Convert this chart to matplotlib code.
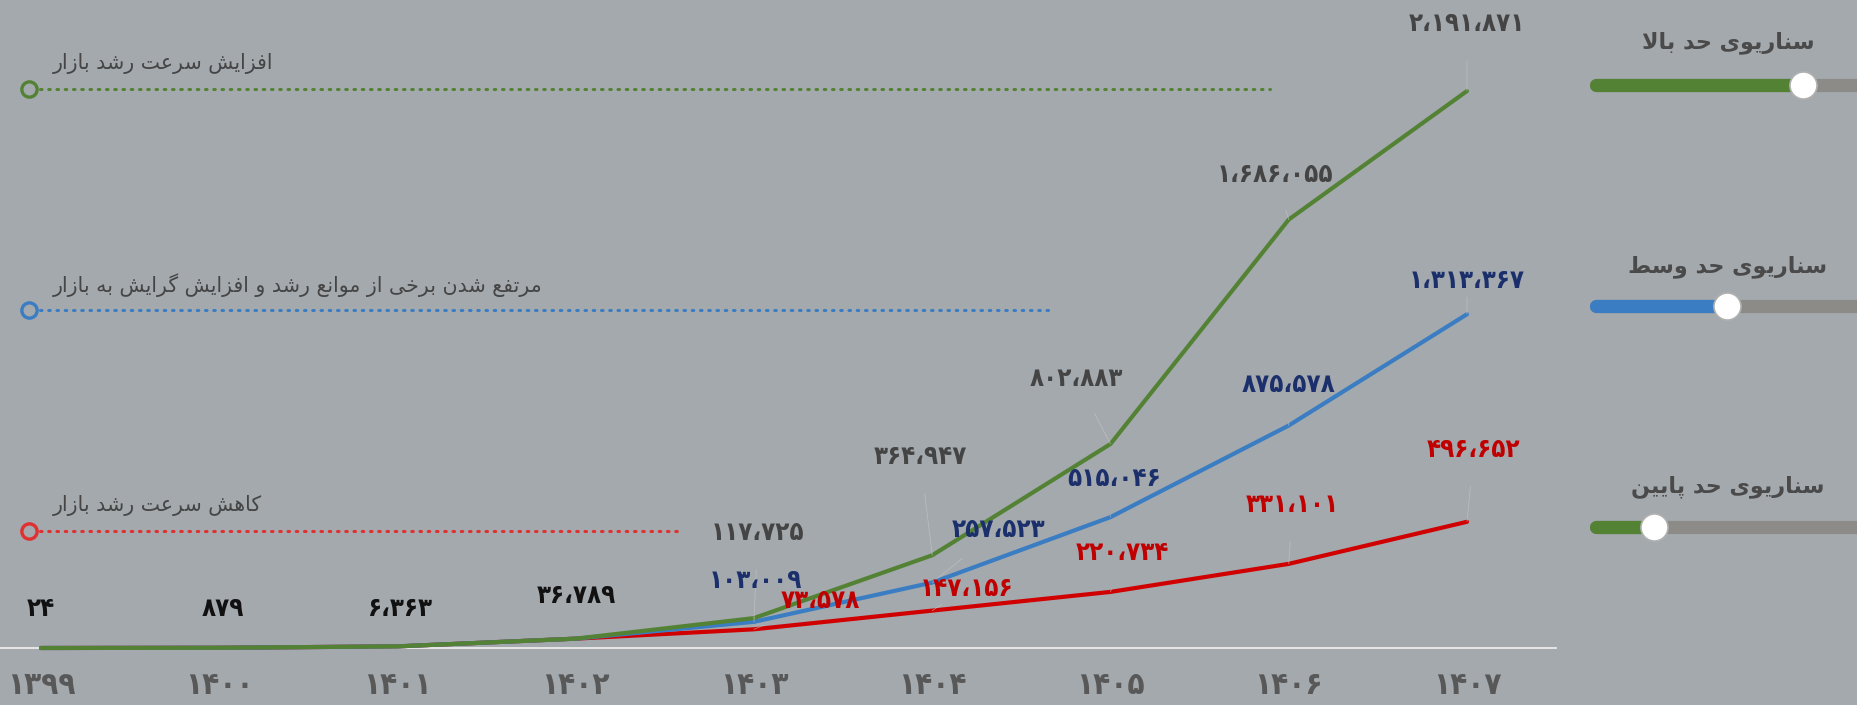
import matplotlib
matplotlib.use("Agg")
import matplotlib.pyplot as plt
from matplotlib import font_manager

# ---- data ----
years = [1399, 1400, 1401, 1402, 1403, 1404, 1405, 1406, 1407]
high = [24, 879, 6363, 36789, 117725, 364947, 802883, 1686055, 2191871]
mid = [24, 879, 6363, 36789, 103009, 257523, 515046, 875578, 1313367]
low = [24, 879, 6363, 36789, 73578, 147156, 220734, 331101, 496652]
n_shared = 4  # first points are common to all scenarios

scenario_notes = ["افزایش سرعت رشد بازار",
                  "مرتفع شدن برخی از موانع رشد و افزایش گرایش به بازار",
                  "کاهش سرعت رشد بازار"]
slider_titles = ["سناریوی حد بالا", "سناریوی حد وسط", "سناریوی حد پایین"]
slider_levels = [0.79, 0.50, 0.22]

BG = "#a4a9ad"
GREEN = "#548235"
BLUE = "#3a7dc2"
RED = "#d00000"

# ---- minimal Persian shaping (matplotlib has no complex text layout) ----
FORMS = {
    "ا": ("\uFE8D", "\uFE8E", None, None),
    "ب": ("\uFE8F", "\uFE90", "\uFE91", "\uFE92"),
    "پ": ("\uFB56", "\uFB57", "\uFB58", "\uFB59"),
    "ت": ("\uFE95", "\uFE96", "\uFE97", "\uFE98"),
    "ح": ("\uFEA1", "\uFEA2", "\uFEA3", "\uFEA4"),
    "خ": ("\uFEA5", "\uFEA6", "\uFEA7", "\uFEA8"),
    "د": ("\uFEA9", "\uFEAA", None, None),
    "ر": ("\uFEAD", "\uFEAE", None, None),
    "ز": ("\uFEAF", "\uFEB0", None, None),
    "س": ("\uFEB1", "\uFEB2", "\uFEB3", "\uFEB4"),
    "ش": ("\uFEB5", "\uFEB6", "\uFEB7", "\uFEB8"),
    "ط": ("\uFEC1", "\uFEC2", "\uFEC3", "\uFEC4"),
    "ع": ("\uFEC9", "\uFECA", "\uFECB", "\uFECC"),
    "ف": ("\uFED1", "\uFED2", "\uFED3", "\uFED4"),
    "ک": ("\uFB8E", "\uFB8F", "\uFB90", "\uFB91"),
    "گ": ("\uFB92", "\uFB93", "\uFB94", "\uFB95"),
    "ل": ("\uFEDD", "\uFEDE", "\uFEDF", "\uFEE0"),
    "م": ("\uFEE1", "\uFEE2", "\uFEE3", "\uFEE4"),
    "ن": ("\uFEE5", "\uFEE6", "\uFEE7", "\uFEE8"),
    "ه": ("\uFEE9", "\uFEEA", "\uFEEB", "\uFEEC"),
    "و": ("\uFEED", "\uFEEE", None, None),
    "ی": ("\uFBFC", "\uFBFD", "\uFBFE", "\uFBFF"),
}


def dual(c):
    return c in FORMS and FORMS[c][2] is not None


def shape(text):
    out = []
    chars = list(text)
    i = 0
    while i < len(chars):
        c = chars[i]
        if c not in FORMS:
            out.append(c)
            i += 1
            continue
        prev = chars[i - 1] if i > 0 else None
        join_prev = prev is not None and dual(prev)
        # lam-alef ligature
        if c == "ل" and i + 1 < len(chars) and chars[i + 1] == "ا":
            out.append("\uFEFC" if join_prev else "\uFEFB")
            i += 2
            continue
        nxt = chars[i + 1] if i + 1 < len(chars) else None
        join_next = dual(c) and nxt in FORMS
        iso, fin, ini, med = FORMS[c]
        if join_prev and join_next:
            out.append(med)
        elif join_prev:
            out.append(fin)
        elif join_next:
            out.append(ini)
        else:
            out.append(iso)
        i += 1
    return "".join(out)[::-1]


FA_DIGITS = str.maketrans("0123456789", "۰۱۲۳۴۵۶۷۸۹")


def fa_num(v):
    return f"{v:,}".replace(",", "،").translate(FA_DIGITS)


# condensed bold face for the numbers, if present
cond = None
for f in font_manager.fontManager.ttflist:
    if f.name == "DejaVu Sans" and "Condensed-Bold" in f.fname and "Oblique" not in f.fname:
        cond = font_manager.FontProperties(fname=f.fname)
        break
if cond is None:
    cond = font_manager.FontProperties(family="DejaVu Sans", weight="bold")


def numfont(size):
    fp = cond.copy()
    fp.set_size(size)
    return fp


# ---- figure ----
W, H = 1858, 705
fig = plt.figure(figsize=(W / 100, H / 100), dpi=100, facecolor=BG)
ax = fig.add_axes([0, 0, 1, 1])
ax.set_facecolor(BG)
ax.axis("off")

# pixel mapping: 1399 at x=41, 1407 at x=1467 ; 0 at y=648 (from top), max at y=91
px_per_year = (1467 - 41) / 8
ax.set_xlim(1399 - 41 / px_per_year, 1399 + (W - 41) / px_per_year)
vmax = high[-1]
px_per_val = (648 - 91) / vmax
ax.set_ylim(-(H - 648) / px_per_val, 648 / px_per_val)

fa = ["DejaVu Sans"]

# baseline
ax.plot([ax.get_xlim()[0], 1399 + (1556 - 41) / px_per_year], [0, 0],
        color="#e6e6e6", lw=1.4, zorder=1)

# lines
ax.plot(years, low, color=RED, lw=3, zorder=3, solid_capstyle="round")
ax.plot(years, mid, color=BLUE, lw=3, zorder=4, solid_capstyle="round")
ax.plot(years, high, color=GREEN, lw=3, zorder=5, solid_capstyle="round")

# x labels
for y in years:
    ax.text(y, -(686 - 648) / px_per_val, str(y).translate(FA_DIGITS),
            ha="center", va="center", fontproperties=numfont(22.5),
            color="#585858")

# shared labels
shared_off = [(0, 39), (4, 39), (3, 37), (1, 43)]
for i in range(n_shared):
    ax.annotate(fa_num(high[i]), (years[i], high[i]), xytext=shared_off[i],
                textcoords="offset pixels", ha="center", va="center",
                fontproperties=numfont(18.5), color="#111111", zorder=6)

series = [
    (high, "#444444", [(4, 85), (-12, 98), (-34, 65), (-14, 45), (0, 67)]),
    (mid, "#1a2f6b", [(1, 41), (66, 53), (4, 38), (0, 40), (0, 33)]),
    (low, "#c00000", [(66, 28), (34, 22), (12, 39), (4, 59), (7, 72)]),
]
for vals, col, offs in series:
    for k, i in enumerate(range(n_shared, len(years))):
        ax.annotate(fa_num(vals[i]), (years[i], vals[i]), xytext=offs[k],
                    textcoords="offset pixels", ha="center", va="center",
                    fontproperties=numfont(18.5), color=col, zorder=6,
                    arrowprops=dict(arrowstyle="-", color="#c8c8c8", lw=0.6,
                                    alpha=0.6, shrinkA=15, shrinkB=0))

# left scenario notes (figure pixel coords)
def fx(px):
    return px / W


def fy(py):
    return 1 - py / H


note_cols = [GREEN, BLUE, "#e03030"]
note_rows = [89, 310, 531]
note_ends = [1270, 1051, 678]
for txt, col, yrow, xend in zip(scenario_notes, note_cols, note_rows, note_ends):
    fig.add_artist(plt.Line2D([fx(40), fx(xend)], [fy(yrow), fy(yrow)],
                              color=col, lw=2.2, ls=(0, (0.5, 2.2)),
                              dash_capstyle="round"))
    fig.add_artist(plt.Line2D([fx(29)], [fy(yrow)], marker="o", ms=11,
                              mfc=BG, mec=col, mew=2.4, ls="none"))
    fig.text(fx(53), fy(yrow - 25), shape(txt), ha="left", va="center",
             fontsize=14.8, color="#454545", family=fa)

# right sliders
slider_cols = [GREEN, BLUE, GREEN]
title_rows = [43, 267, 487]
track_rows = [85, 306, 527]
x0, x1 = 1596, W + 20
for title, lvl, col, ty, ry in zip(slider_titles, slider_levels, slider_cols,
                                   title_rows, track_rows):
    fig.text(fx(1728), fy(ty), shape(title), ha="center", va="center",
             fontsize=16, fontweight="bold", color="#4a4a4a", family=fa)
    knob = x0 + lvl * (1858 - x0)
    fig.add_artist(plt.Line2D([fx(x0), fx(x1)], [fy(ry), fy(ry)],
                              color="#8c8b88", lw=9.5, solid_capstyle="round"))
    fig.add_artist(plt.Line2D([fx(x0), fx(knob)], [fy(ry), fy(ry)],
                              color=col, lw=9.5, solid_capstyle="round"))
    fig.add_artist(plt.Line2D([fx(knob)], [fy(ry)], marker="o", ms=19.5,
                              mfc="white", mec="#b0b0b0", mew=1.2, ls="none"))

fig.savefig("out.png", dpi=100, facecolor=BG)
